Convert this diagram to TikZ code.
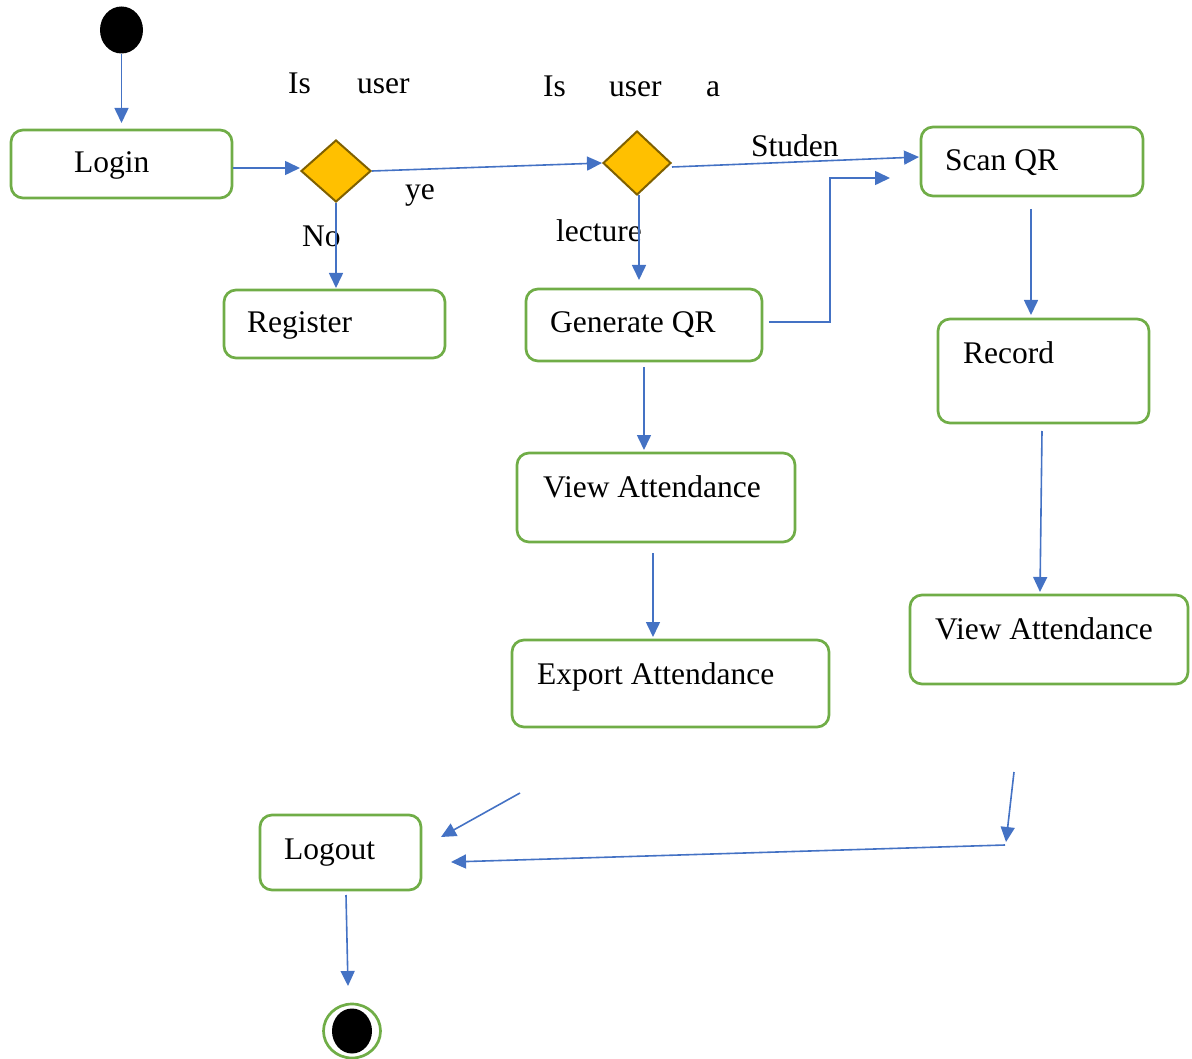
\documentclass[tikz,border=0pt]{standalone}
\usepackage{fontspec}
\setmainfont{Liberation Serif}
\usetikzlibrary{arrows.meta,shapes.geometric}
\definecolor{boxgreen}{HTML}{70AD47}
\definecolor{arrblue}{HTML}{4472C4}
\definecolor{dfill}{HTML}{FFC000}
\definecolor{dline}{HTML}{7F6000}
\begin{document}
\begin{tikzpicture}[x=1pt,y=-1pt,
  box/.style={draw=boxgreen, line width=2.7pt, rounded corners=12pt, rectangle, inner sep=0pt},
  dec/.style={diamond, draw=dline, fill=dfill, line width=2pt, inner sep=0pt},
  txt/.style={anchor=base west, inner sep=0pt, font=\fontsize{31.5}{38}\selectfont},
  arr/.style={draw=arrblue, line width=1.6pt, -{Triangle[length=15pt,width=14pt]}}]
\useasboundingbox (0,0) rectangle (1192,1059);
% start and end
\node[ellipse, fill=black, minimum width=43, minimum height=47, inner sep=0pt] (start) at (121.5,30) {};
\node[ellipse, draw=boxgreen, line width=2.7pt, minimum width=57, minimum height=54, inner sep=0pt] (endring) at (352,1031) {};
\node[ellipse, fill=black, minimum width=40, minimum height=45, inner sep=0pt] (enddot) at (352,1031) {};
% boxes
\node[box, minimum width=221, minimum height=68] (login) at (121.5,164) {};
\node[box, minimum width=221, minimum height=68] (register) at (334.5,324) {};
\node[box, minimum width=236, minimum height=72] (genqr) at (644,325) {};
\node[box, minimum width=222, minimum height=69] (scanqr) at (1032,161.5) {};
\node[box, minimum width=211, minimum height=104] (record) at (1043.5,371) {};
\node[box, minimum width=278, minimum height=89] (viewL) at (656,497.5) {};
\node[box, minimum width=317, minimum height=87] (export) at (670.5,683.5) {};
\node[box, minimum width=278, minimum height=89] (viewR) at (1049,639.5) {};
\node[box, minimum width=161, minimum height=75] (logout) at (340.5,852.5) {};
% decisions
\node[dec, minimum width=70, minimum height=62] (d1) at (336,171) {};
\node[dec, minimum width=68, minimum height=64] (d2) at (637,163) {};
% box texts
\node[txt] (tlogin) at (74,173) {Login};
\node[txt] (tregister) at (247,333) {Register};
\node[txt] (tgenqr) at (550,333) {Generate QR};
\node[txt] (tscanqr) at (945,171) {Scan QR};
\node[txt] (trecord) at (963,364) {Record};
\node[txt] (tviewL) at (543,497) {View Attendance};
\node[txt] (texport) at (537,684) {Export Attendance};
\node[txt] (tviewR) at (935,639) {View Attendance};
\node[txt] (tlogout) at (284,859) {Logout};
% other texts
\node[txt] (is1) at (288,94) {Is};
\node[txt] (user1) at (357,94) {user};
\node[txt] (is2) at (543,97) {Is};
\node[txt] (user2) at (609,97) {user};
\node[txt] (a2) at (706,97) {a};
\node[txt] (studen) at (751,157) {Studen};
\node[txt] (ye) at (405,200) {ye};
\node[txt] (no) at (302,247) {No};
\node[txt] (lecture) at (556,242) {lecture};
% free connector ends
\coordinate (c1) at (121.5,123);
\coordinate (c2) at (233,168);
\coordinate (c3) at (300,168);
\coordinate (c3b) at (672,167);
\coordinate (c4) at (919,157);
\coordinate (c5) at (639,195);
\coordinate (c6) at (639,280);
\coordinate (c7) at (336,288);
\coordinate (g1) at (769,322);
\coordinate (g2) at (830,178);
\coordinate (g3) at (890,178);
\coordinate (s1) at (1031,209);
\coordinate (s2) at (1031,315);
\coordinate (r1) at (1042,431);
\coordinate (r2) at (1040,592);
\coordinate (v1) at (644,367);
\coordinate (v2) at (644,450);
\coordinate (v3) at (653,553);
\coordinate (v4) at (653,637);
\coordinate (e1) at (520,793);
\coordinate (e2) at (441,837);
\coordinate (w1) at (1014,772);
\coordinate (w2) at (1006,842);
\coordinate (w3) at (1005,845);
\coordinate (w4) at (451,862);
\coordinate (l1) at (346,895);
\coordinate (l2) at (348,986);
% connectors
\draw[arr] (start.south) -- (c1);
\draw[arr] (c2) -- (c3);
\draw[arr] (d1.east) -- (d2.west);
\draw[arr] (c3b) -- (c4);
\draw[arr] (c5) -- (c6);
\draw[arr] (d1.south) -- (c7);
\draw[arr] (g1) -| (g2) -- (g3);
\draw[arr] (s1) -- (s2);
\draw[arr] (r1) -- (r2);
\draw[arr] (v1) -- (v2);
\draw[arr] (v3) -- (v4);
\draw[arr] (e1) -- (e2);
\draw[arr] (w1) -- (w2);
\draw[arr] (w3) -- (w4);
\draw[arr] (l1) -- (l2);
\end{tikzpicture}
\end{document}
